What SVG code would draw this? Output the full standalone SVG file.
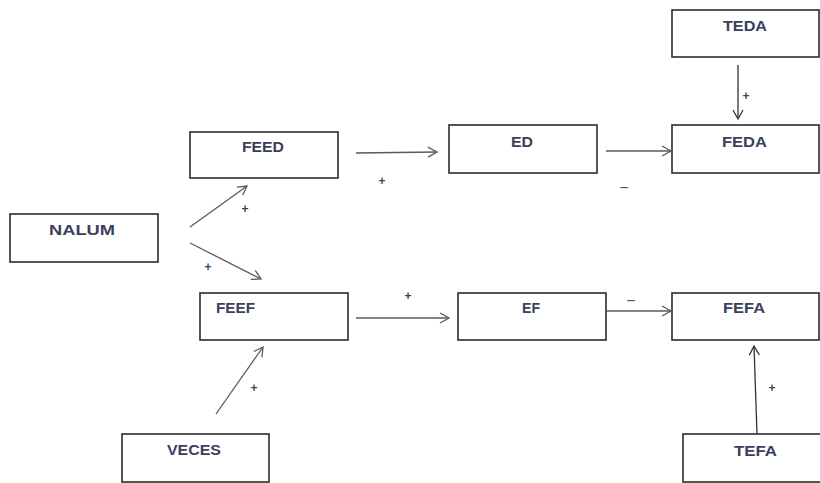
<svg xmlns="http://www.w3.org/2000/svg" width="820" height="483" viewBox="0 0 820 483">
<style>
.box{fill:#fff;stroke:#2b2b2b;stroke-width:1.6}
.lbl{font-family:"Liberation Sans",Arial,sans-serif;font-weight:bold;font-size:14px;fill:#3b3f5c}
.sign{font-family:"Liberation Sans",Arial,sans-serif;font-weight:bold;font-size:12px;fill:#3b3f5c;text-anchor:middle}
.minus{font-family:"Liberation Sans",Arial,sans-serif;font-size:16px;fill:#555;text-anchor:middle}
.con{fill:none;stroke:#5a5a5a;stroke-width:1.3;marker-end:url(#ah)}
.dk{stroke:#333;marker-end:url(#ahd)}
</style>
<defs>
<marker id="ah" markerWidth="12" markerHeight="12" refX="10" refY="6" orient="auto" markerUnits="userSpaceOnUse">
<path d="M1,1 L10,6 L1,11" fill="none" stroke="#5a5a5a" stroke-width="1.3"/>
</marker>
<marker id="ahd" markerWidth="12" markerHeight="12" refX="10" refY="6" orient="auto" markerUnits="userSpaceOnUse">
<path d="M1,1 L10,6 L1,11" fill="none" stroke="#333" stroke-width="1.3"/>
</marker>
</defs>
<rect width="820" height="483" fill="#fff"/>
<g id="NALUM"><rect class="box" x="10" y="214" width="148" height="48"/><text class="lbl" x="49" y="235" textLength="66" lengthAdjust="spacingAndGlyphs">NALUM</text></g>
<g id="FEED"><rect class="box" x="190" y="132" width="148" height="46"/><text class="lbl" x="242" y="152" textLength="42" lengthAdjust="spacingAndGlyphs">FEED</text></g>
<g id="FEEF"><rect class="box" x="200" y="293" width="148" height="47"/><text class="lbl" x="216" y="313" textLength="39" lengthAdjust="spacingAndGlyphs">FEEF</text></g>
<g id="ED"><rect class="box" x="449" y="125" width="148" height="48"/><text class="lbl" x="511" y="147" textLength="22" lengthAdjust="spacingAndGlyphs">ED</text></g>
<g id="EF"><rect class="box" x="458" y="293" width="148" height="47"/><text class="lbl" x="522" y="313" textLength="18" lengthAdjust="spacingAndGlyphs">EF</text></g>
<g id="FEDA"><rect class="box" x="672" y="125" width="147" height="48"/><text class="lbl" x="722" y="147" textLength="45" lengthAdjust="spacingAndGlyphs">FEDA</text></g>
<g id="FEFA"><rect class="box" x="672" y="293" width="147" height="47"/><text class="lbl" x="723" y="313" textLength="42" lengthAdjust="spacingAndGlyphs">FEFA</text></g>
<g id="TEDA"><rect class="box" x="672" y="10" width="147" height="47"/><text class="lbl" x="723" y="31" textLength="44" lengthAdjust="spacingAndGlyphs">TEDA</text></g>
<g id="VECES"><rect class="box" x="122" y="434" width="147" height="48"/><text class="lbl" x="167" y="455" textLength="54" lengthAdjust="spacingAndGlyphs">VECES</text></g>
<g id="TEFA"><rect class="box" x="683" y="434" width="140" height="48"/><text class="lbl" x="734" y="456" textLength="43" lengthAdjust="spacingAndGlyphs">TEFA</text></g>
<g id="connectors">
<line class="con" x1="190" y1="227" x2="247" y2="186"/>
<line class="con" x1="190" y1="243" x2="261" y2="279"/>
<line class="con" x1="356" y1="153" x2="437" y2="152"/>
<line class="con" x1="606" y1="151" x2="671" y2="151"/>
<line class="con" x1="356" y1="318" x2="449" y2="318"/>
<line class="con" x1="606" y1="311" x2="671" y2="311"/>
<line class="con dk" x1="738" y1="65" x2="738" y2="119"/>
<line class="con" x1="216" y1="414" x2="263" y2="347"/>
<line class="con dk" x1="757" y1="434" x2="754" y2="346"/>
<text class="sign" x="245" y="213">+</text>
<text class="sign" x="208" y="271">+</text>
<text class="sign" x="382" y="185">+</text>
<text class="minus" x="624" y="193">−</text>
<text class="sign" x="408" y="300">+</text>
<text class="minus" x="631" y="306">−</text>
<text class="sign" x="746" y="100">+</text>
<text class="sign" x="254" y="392">+</text>
<text class="sign" x="772" y="392">+</text>
</g>
</svg>
